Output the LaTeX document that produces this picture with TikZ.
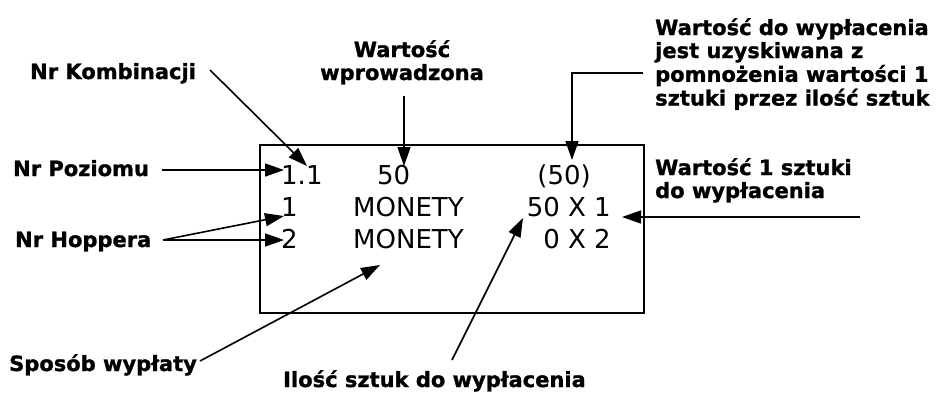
\documentclass[tikz,border=0pt]{standalone}
\usepackage{fontspec}
\setmainfont{DejaVu Sans}[BoldFeatures={FakeBold=1.2}]
\usetikzlibrary{arrows.meta}
\begin{document}
\begin{tikzpicture}[x=1pt,y=-1pt,
  lbl/.style={inner sep=0pt,font=\bfseries\fontsize{21}{23}\selectfont},
  lcd/.style={inner sep=0pt,font=\fontsize{26}{30}\selectfont},
  conn/.style={line width=1.6pt,-{Triangle[length=19pt,width=13pt]}},
  frame/.style={line width=1.8pt}]
\useasboundingbox (0,0) rectangle (937,392);
% display frame
\node[frame,draw,minimum width=384pt,minimum height=168pt,anchor=north west,inner sep=0pt] (box) at (259,144) {};
% display text
\node[lcd,anchor=base west] (r1a) at (281,184) {1.1};
\node[lcd,anchor=base west] (r1b) at (377,184) {50};
\node[lcd,anchor=base east] (r1c) at (591,184) {(50)};
\node[lcd,anchor=base west] (r2a) at (281,216) {1};
\node[lcd,anchor=base west] (r2b) at (353,216) {MONETY};
\node[lcd,anchor=base east] (r2c) at (611,216) {50 X 1};
\node[lcd,anchor=base west] (r3a) at (281,248) {2};
\node[lcd,anchor=base west] (r3b) at (353,248) {MONETY};
\node[lcd,anchor=base east] (r3c) at (611,248) {0 X 2};
% labels
\node[lbl,anchor=base west] (kombi) at (30,79) {Nr Kombinacji};
\node[lbl,anchor=base] (wprow) at (402,57) {\begin{tabular}[t]{@{}c@{}}Wartość\\wprowadzona\end{tabular}};
\node[lbl,anchor=base west] (wyplac) at (655,35) {\begin{tabular}[t]{@{}l@{}}Wartość do wypłacenia\\jest uzyskiwana z\\pomnożenia wartości 1\\sztuki przez ilość sztuk\end{tabular}};
\node[lbl,anchor=base west] (poziom) at (13,176) {Nr Poziomu};
\node[lbl,anchor=base west] (sztuki1) at (655,175) {\begin{tabular}[t]{@{}l@{}}Wartość 1 sztuki\\do wypłacenia\end{tabular}};
\node[lbl,anchor=base west] (hopper) at (15,247) {Nr Hoppera};
\node[lbl,anchor=base west] (sposob) at (9,371) {Sposób wypłaty};
\node[lbl,anchor=base west] (ilosc) at (283,387) {Ilość sztuk do wypłacenia};
% connector ends
\coordinate (kombiS) at (210,70);   \coordinate (kombiT) at (307,166);
\coordinate (wprowS) at (404,96);   \coordinate (wprowT) at (404,166);
\coordinate (wyplacS) at (643,73);  \coordinate (wyplacT) at (572,160);
\coordinate (poziomS) at (162,170); \coordinate (poziomT) at (284,170);
\coordinate (hopperS) at (163,240); \coordinate (hopperT1) at (284,216); \coordinate (hopperT2) at (284,240);
\coordinate (sposobS) at (200,361); \coordinate (sposobT) at (380,265);
\coordinate (iloscS) at (452,360);  \coordinate (iloscT) at (523,218);
\coordinate (sztuki1S) at (860,217); \coordinate (sztuki1T) at (622,217);
% connectors
\draw[conn] (kombiS) -- (kombiT);
\draw[conn] (wprowS) -- (wprowT);
\draw[conn] (wyplacS) -| (wyplacT);
\draw[conn] (poziomS) -- (poziomT);
\draw[conn] (hopperS) -- (hopperT1);
\draw[conn] (hopperS) -- (hopperT2);
\draw[conn] (sposobS) -- (sposobT);
\draw[conn] (iloscS) -- (iloscT);
\draw[conn] (sztuki1S) -- (sztuki1T);
\end{tikzpicture}
\end{document}
